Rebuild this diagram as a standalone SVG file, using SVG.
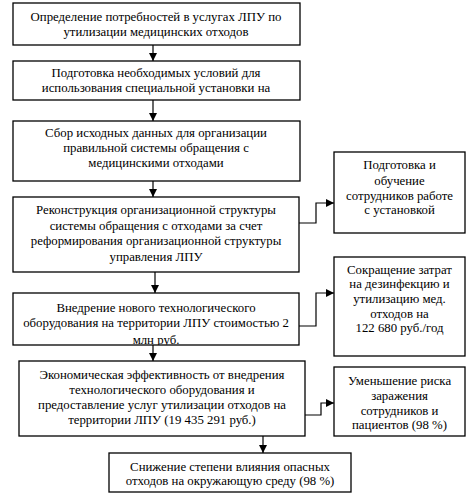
<svg xmlns="http://www.w3.org/2000/svg" width="474" height="499" viewBox="0 0 474 499">
<style>
.box{fill:#fff;stroke:#000;stroke-width:1.3}
.t{font-family:"Liberation Serif","Times New Roman",serif;font-size:12.8px;fill:#000;text-anchor:middle}
.c{fill:none;stroke:#000;stroke-width:1.2}
</style>
<defs>
<marker id="ah" viewBox="0 0 8 8" refX="8" refY="4" markerWidth="8" markerHeight="8" markerUnits="userSpaceOnUse" orient="auto">
<path d="M0,0 L8,4 L0,8 Z" fill="#000"/>
</marker>
<clipPath id="clip5"><rect x="13" y="293" width="286" height="52"/></clipPath>
</defs>
<rect width="474" height="499" fill="#fff"/>
<g id="connectors">
<line class="c" x1="153" y1="45" x2="153" y2="61" marker-end="url(#ah)"/>
<line class="c" x1="153" y1="100" x2="153" y2="121" marker-end="url(#ah)"/>
<line class="c" x1="153" y1="181" x2="153" y2="197" marker-end="url(#ah)"/>
<line class="c" x1="155" y1="272" x2="155" y2="293" marker-end="url(#ah)"/>
<line class="c" x1="153" y1="345" x2="153" y2="361" marker-end="url(#ah)"/>
<line class="c" x1="263" y1="436" x2="263" y2="453" marker-end="url(#ah)"/>
<polyline class="c" points="299,223 316,223 316,203 334,203" marker-end="url(#ah)"/>
<polyline class="c" points="299,326 316,326 316,293 334,293" marker-end="url(#ah)"/>
<polyline class="c" points="305,415 321,415 321,403 334,403" marker-end="url(#ah)"/>
</g>
<g id="n1">
<rect class="box" x="13" y="3" width="287" height="42"/>
<text class="t" x="156" y="21">Определение потребностей в услугах ЛПУ по</text>
<text class="t" x="156" y="36">утилизации медицинских  отходов</text>
</g>
<g id="n2">
<rect class="box" x="13" y="61" width="287" height="39"/>
<text class="t" x="156" y="77">Подготовка необходимых условий для</text>
<text class="t" x="156" y="92">использования специальной установки на</text>
</g>
<g id="n3">
<rect class="box" x="13" y="121" width="287" height="60"/>
<text class="t" x="156" y="137">Сбор исходных данных для организации</text>
<text class="t" x="156" y="152">правильной системы обращения с</text>
<text class="t" x="156" y="167">медицинскими  отходами</text>
</g>
<g id="n4">
<rect class="box" x="13" y="197" width="286" height="75"/>
<text class="t" x="156" y="214">Реконструкция организационной структуры</text>
<text class="t" x="156" y="230">системы обращения с отходами за счет</text>
<text class="t" x="156" y="245">реформирования организационной структуры</text>
<text class="t" x="156" y="261">управления ЛПУ</text>
</g>
<g id="n5">
<rect class="box" x="13" y="293" width="286" height="52"/>
<text class="t" x="156" y="312">Внедрение нового технологического</text>
<text class="t" x="156" y="327">оборудования на территории ЛПУ стоимостью 2</text>
<text class="t" x="156" y="344" clip-path="url(#clip5)">млн  руб.</text>
</g>
<g id="n6">
<rect class="box" x="19" y="361" width="286" height="75"/>
<text class="t" x="162" y="379">Экономическая эффективность от внедрения</text>
<text class="t" x="162" y="394">технологического оборудования и</text>
<text class="t" x="162" y="409">предоставление услуг утилизации отходов на</text>
<text class="t" x="162" y="424">территории ЛПУ (19 435 291 руб.)</text>
</g>
<g id="n7">
<rect class="box" x="109" y="453" width="242" height="39"/>
<text class="t" x="230" y="471">Снижение степени влияния опасных</text>
<text class="t" x="230" y="485">отходов на окружающую среду (98 %)</text>
</g>
<g id="r1">
<rect class="box" x="334" y="152" width="131" height="81"/>
<text class="t" x="399.5" y="169">Подготовка и</text>
<text class="t" x="399.5" y="185">обучение</text>
<text class="t" x="399.5" y="200">сотрудников работе</text>
<text class="t" x="399.5" y="214">с установкой</text>
</g>
<g id="r2">
<rect class="box" x="334" y="257" width="131" height="99"/>
<text class="t" x="399.5" y="274">Сокращение затрат</text>
<text class="t" x="399.5" y="288">на дезинфекцию и</text>
<text class="t" x="399.5" y="303">утилизацию мед.</text>
<text class="t" x="399.5" y="318">отходов на</text>
<text class="t" x="399.5" y="332">122 680 руб./год</text>
</g>
<g id="r3">
<rect class="box" x="334" y="367" width="131" height="69"/>
<text class="t" x="399.5" y="385">Уменьшение риска</text>
<text class="t" x="399.5" y="400">заражения</text>
<text class="t" x="399.5" y="415">сотрудников и</text>
<text class="t" x="399.5" y="429">пациентов (98 %)</text>
</g>
</svg>
